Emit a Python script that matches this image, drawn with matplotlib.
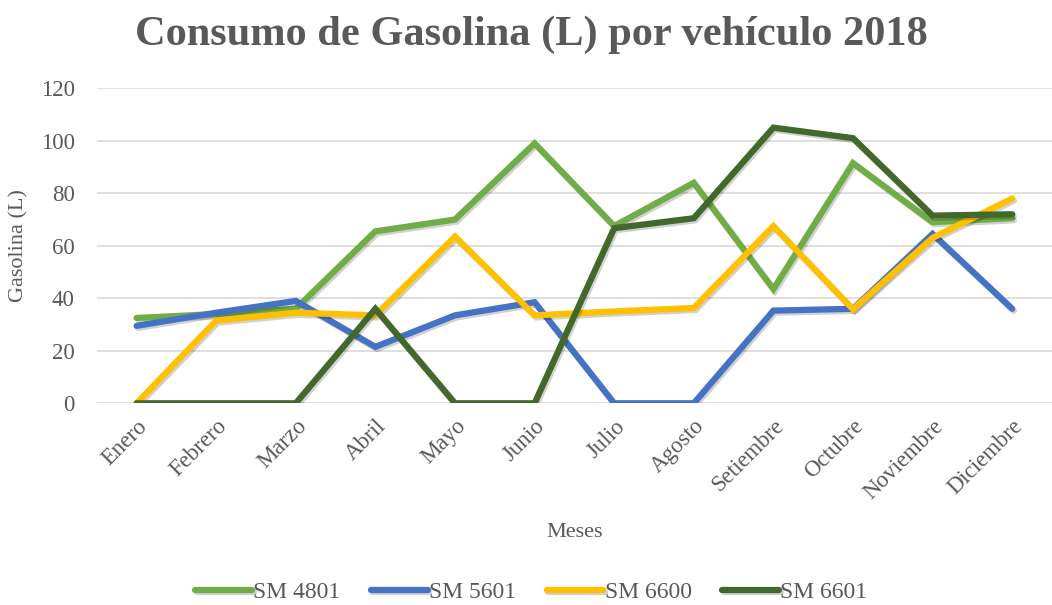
import matplotlib
matplotlib.use("Agg")
import matplotlib.pyplot as plt
import matplotlib.patheffects as pe

months = ["Enero", "Febrero", "Marzo", "Abril", "Mayo", "Junio", "Julio",
          "Agosto", "Setiembre", "Octubre", "Noviembre", "Diciembre"]
sm4801 = [32.5, 34, 36, 65.5, 70, 99, 67.5, 84, 43.5, 91.5, 69, 70.5]
sm5601 = [29.5, 34.5, 39, 21.5, 33.5, 38.5, 0, 0, 35.3, 36, 64.5, 36]
sm6600 = [0, 31.5, 34.5, 33.5, 63.5, 33.5, 35, 36.3, 67.5, 35.8, 63, 78]
sm6601 = [0, 0, 0, 36, 0, 0, 66.7, 70.5, 105, 101, 71.5, 72]

series = [("SM 4801", sm4801, "#70AD47"),
          ("SM 5601", sm5601, "#4472C4"),
          ("SM 6600", sm6600, "#FFC000"),
          ("SM 6601", sm6601, "#43682B")]

plt.rcParams['font.family'] = ['Liberation Serif', 'DejaVu Serif']
gray = "#595959"

fig = plt.figure(figsize=(10.52, 6.05), dpi=100)
ax = fig.add_axes([0.092, 0.3334, 0.908, 0.5207])

x = list(range(len(months)))
shadow = [pe.SimpleLineShadow(offset=(1.2, -1.5), shadow_color="black", alpha=0.18, rho=1.0), pe.Normal()]
for name, vals, col in series:
    ax.plot(x, vals, color=col, lw=4.5, label=name, solid_capstyle='round',
            solid_joinstyle='miter', path_effects=shadow)

ax.set_xlim(-0.5, len(months) - 0.5)
ax.set_ylim(0, 120)
ax.set_yticks(range(0, 121, 20))
ax.yaxis.grid(True, color="#D9D9D9", lw=1.2)
ax.set_axisbelow(True)
for s in ax.spines.values():
    s.set_visible(False)
ax.tick_params(axis='both', length=0, colors=gray, labelsize=16.5)
ax.tick_params(axis='y', pad=16)
ax.set_xticks(x)
ax.set_xticklabels(months, rotation=45, ha='right', rotation_mode='anchor')
ax.tick_params(axis='x', pad=9)

ax.set_ylabel("Gasolina (L)", fontsize=16, color=gray, labelpad=9)
ax.set_xlabel("Meses", fontsize=16, color=gray, labelpad=14)

fig.suptitle("Consumo de Gasolina (L) por vehículo 2018", fontsize=30.5,
             fontweight='bold', color=gray, x=0.505, y=0.975, va='top')

leg = fig.legend(loc='lower center', bbox_to_anchor=(0.505, -0.032), ncol=4,
                 frameon=False, fontsize=17, handlelength=2.4, handletextpad=0.05,
                 columnspacing=1.3, labelcolor=gray)
for h in leg.get_lines():
    h.set_solid_capstyle('round')

fig.savefig("out.png", dpi=100)
